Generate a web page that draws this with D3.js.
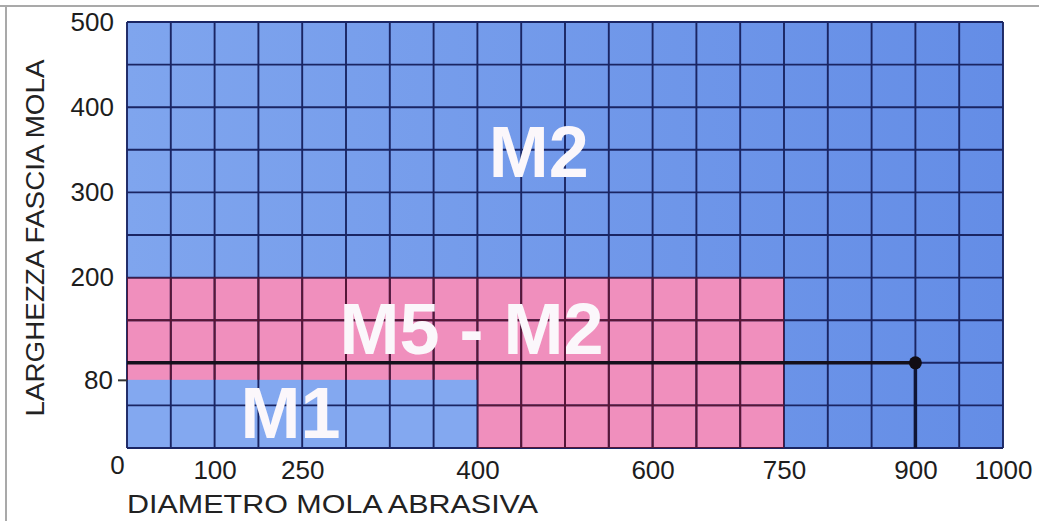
<!DOCTYPE html>
<html>
<head>
<meta charset="utf-8">
<script src="https://cdn.jsdelivr.net/npm/d3@7"></script>
<style>
  html, body { margin: 0; padding: 0; background: #fff; }
  svg { display: block; font-family: "Liberation Sans", Arial, sans-serif; }
</style>
</head>
<body>
<svg id="chart" width="1039" height="521"></svg>
<script>
    // --- data ---
    const zoneNames = ["M2", "M5 - M2", "M1"];
    const zoneMaxDiameter = [1000, 750, 400];   // mm
    const zoneMaxWidth = [500, 200, 80];        // mm
    const zoneLabelAt = [[470, 318], [395, 110], [230, 12]];

    const xTicks = [0, 100, 250, 400, 600, 750, 900, 1000];
    const yTicks = [0, 80, 200, 300, 400, 500];

    const example = {diameter: 900, width: 100};

    // --- layout ---
    const W = 1039, H = 521;
    const margin = {left: 127, top: 22};
    const plotW = 876, plotH = 426;
    const nCols = 20, nRows = 10;
    const cellW = plotW / nCols, cellH = plotH / nRows;

    // the printed axis is not linear: each tick sits on a grid line
    const xTickCols = [0, 2, 4, 8, 12, 15, 18, 20];
    const yTickRows = [0, 1.6, 4, 6, 8, 10];

    const x = d3.scaleLinear()
        .domain(xTicks)
        .range(xTickCols.map(c => c * cellW));
    const y = d3.scaleLinear()
        .domain(yTicks)
        .range(yTickRows.map(r => plotH - r * cellH));

    const svg = d3.select('#chart');

    // page frame (scanned look)
    svg.append('line').attr('x1', 0).attr('x2', W).attr('y1', 6).attr('y2', 6)
        .attr('stroke', '#a9a9a9').attr('stroke-width', 2);
    svg.append('line').attr('x1', 6).attr('x2', 6).attr('y1', 6).attr('y2', H)
        .attr('stroke', '#a9a9a9').attr('stroke-width', 2);

    const defs = svg.append('defs');
    const grad = defs.append('linearGradient').attr('id', 'blueGrad')
        .attr('x1', '0%').attr('x2', '100%').attr('y1', '0%').attr('y2', '0%');
    grad.append('stop').attr('offset', '0%').attr('stop-color', '#7fa5ee');
    grad.append('stop').attr('offset', '100%').attr('stop-color', '#648de6');

    const zoneFill = ['url(#blueGrad)', '#f08fbd', '#83a8f0'];

    const g = svg.append('g')
        .attr('transform', `translate(${margin.left},${margin.top})`);

    const zones = zoneNames.map((name, i) => ({
        name: name,
        d: zoneMaxDiameter[i],
        w: zoneMaxWidth[i],
        lx: zoneLabelAt[i][0],
        ly: zoneLabelAt[i][1],
        fill: zoneFill[i]
    }));

    g.append('g').attr('id', 'zones')
        .selectAll('rect')
        .data(zones)
        .join('rect')
        .attr('x', x(0))
        .attr('y', d => y(d.w))
        .attr('width', d => x(d.d) - x(0))
        .attr('height', d => y(0) - y(d.w))
        .attr('fill', d => d.fill);

    // pink visible area (M5-M2 minus M1), used to tint its grid lines
    const pinkPoly = [
        [x(0), y(zoneMaxWidth[1])], [x(zoneMaxDiameter[1]), y(zoneMaxWidth[1])],
        [x(zoneMaxDiameter[1]), y(0)], [x(zoneMaxDiameter[2]), y(0)],
        [x(zoneMaxDiameter[2]), y(zoneMaxWidth[2])], [x(0), y(zoneMaxWidth[2])]
    ];
    defs.append('clipPath').attr('id', 'pinkClip')
        .append('polygon')
        .attr('points', pinkPoly.map(p => p.join(',')).join(' '));

    function drawGrid(sel, color) {
        sel.selectAll('line.v')
            .data(d3.range(nCols + 1))
            .join('line').attr('class', 'v')
            .attr('x1', i => i * cellW).attr('x2', i => i * cellW)
            .attr('y1', 0).attr('y2', plotH)
            .attr('stroke', color).attr('stroke-width', 1.9);
        sel.selectAll('line.h')
            .data(d3.range(nRows + 1))
            .join('line').attr('class', 'h')
            .attr('x1', 0).attr('x2', plotW)
            .attr('y1', i => i * cellH).attr('y2', i => i * cellH)
            .attr('stroke', color).attr('stroke-width', 1.9);
    }
    drawGrid(g.append('g').attr('id', 'grid'), '#1a2563');
    drawGrid(g.append('g').attr('id', 'gridPink').attr('clip-path', 'url(#pinkClip)'), '#581636');

    // zone labels
    g.append('g').attr('id', 'labels')
        .selectAll('text')
        .data(zones)
        .join('text')
        .attr('x', d => x(d.lx))
        .attr('y', d => y(d.ly))
        .attr('text-anchor', 'middle')
        .attr('font-size', 72)
        .attr('font-weight', 'bold')
        .attr('fill', '#fbf7fb')
        .text(d => d.name);

    // reading example: 900 mm diameter, 100 mm width
    g.append('line')
        .attr('x1', x(0)).attr('x2', x(example.diameter))
        .attr('y1', y(example.width)).attr('y2', y(example.width))
        .attr('stroke', '#14101c').attr('stroke-width', 3.5);
    g.append('line')
        .attr('x1', x(example.diameter)).attr('x2', x(example.diameter))
        .attr('y1', y(example.width)).attr('y2', y(0))
        .attr('stroke', '#0f1536').attr('stroke-width', 3.5);
    g.append('circle')
        .attr('cx', x(example.diameter)).attr('cy', y(example.width))
        .attr('r', 6.5).attr('fill', '#120d14');

    // axes
    const xAxis = g.append('g')
        .attr('transform', `translate(0,${plotH})`)
        .call(d3.axisBottom(x).tickValues(xTicks).tickFormat(d3.format('d'))
            .tickSize(0).tickPadding(13));
    const yAxis = g.append('g')
        .call(d3.axisLeft(y).tickValues(yTicks.filter(v => v > 0)).tickFormat(d3.format('d'))
            .tickSize(0).tickPadding(13));

    [xAxis, yAxis].forEach(a => {
        a.select('.domain').remove();
        a.selectAll('text')
            .attr('font-family', '"Liberation Sans", Arial, sans-serif')
            .attr('font-size', 26)
            .attr('fill', '#1d1d1d');
    });
    xAxis.selectAll('.tick').filter(d => d === 0).select('text')
        .attr('dx', -10).attr('dy', 13);
    yAxis.selectAll('.tick').filter(d => d === 80)
        .append('line').attr('x1', -9).attr('x2', 0)
        .attr('stroke', '#333').attr('stroke-width', 2);
    yAxis.selectAll('.tick').filter(d => d === 80).select('text').attr('dx', -1);

    // axis titles
    svg.append('text')
        .attr('x', margin.left)
        .attr('y', 513)
        .attr('font-size', 26)
        .attr('fill', '#222')
        .attr('textLength', 411)
        .attr('lengthAdjust', 'spacingAndGlyphs')
        .text('DIAMETRO MOLA ABRASIVA');

    svg.append('text')
        .attr('transform', 'translate(44,238) rotate(-90)')
        .attr('text-anchor', 'middle')
        .attr('font-size', 26)
        .attr('fill', '#222')
        .attr('textLength', 357)
        .attr('lengthAdjust', 'spacingAndGlyphs')
        .text('LARGHEZZA FASCIA MOLA');
</script>
</body>
</html>
